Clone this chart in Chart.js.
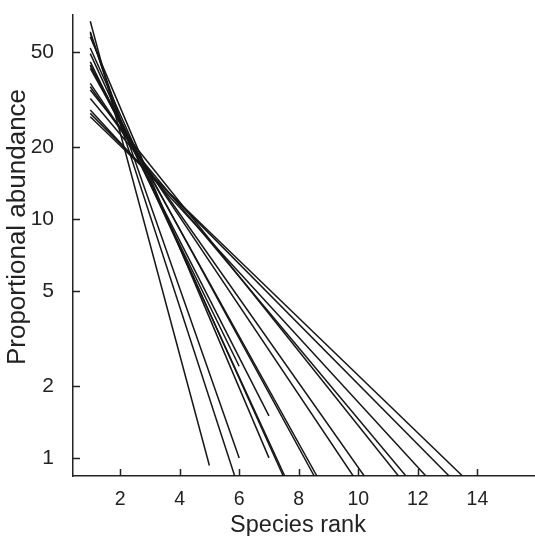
<!DOCTYPE html>
<html>
<head>
<meta charset="utf-8">
<script src="https://cdn.jsdelivr.net/npm/chart.js@4"></script>
<style>
  html, body { margin: 0; padding: 0; background: #fff; }
  #wrap { width: 535px; height: 536px; }
</style>
</head>
<body>
<div id="wrap"><canvas id="grafico"></canvas></div>
<script>
// Rank-abundance lines: each one runs from rank 1 to its last rank
const startRank = 1;
const startAbundance = [67.3, 60.8, 59.9, 57.9, 52.0, 49.3, 45.5, 44.1, 44.0, 42.7, 37.0, 35.8, 34.7, 32.0, 28.6, 27.7, 26.8];
const endRank      = [5.0, 5.85, 6.0, 7.0, 7.48, 7.53, 6.0, 7.0, 8.52, 8.61, 9.83, 10.2, 11.35, 11.6, 12.27, 13.05, 13.5];
const endAbundance = [0.93, 0.84, 1.0, 1.0, 0.84, 0.84, 2.42, 1.5, 0.84, 0.84, 0.84, 0.84, 0.84, 0.84, 0.84, 0.84, 0.84];

const yTicks = [1, 2, 5, 10, 20, 50];
const xTicks = [2, 4, 6, 8, 10, 12, 14];

const corTexto = '#222';
const fonte = '"Liberation Sans", Arial, sans-serif';

const datasets = startAbundance.map((s, i) => ({
    data: [{ x: startRank, y: s }, { x: endRank[i], y: endAbundance[i] }],
    borderColor: '#161616',
    borderWidth: 1.5,
    pointRadius: 0,
    fill: false,
    tension: 0
}));

// marcas dos ticks para dentro, e os titulos dos eixos
const ticksParaDentro = {
    id: 'ticksParaDentro',
    afterDraw(chart) {
        const ctx = chart.ctx;
        const { x, y } = chart.scales;
        ctx.save();
        ctx.strokeStyle = corTexto;
        ctx.lineWidth = 1.5;
        ctx.beginPath();
        xTicks.forEach(v => {
            const px = Math.round(x.getPixelForValue(v)) + 0.5;
            ctx.moveTo(px, y.bottom);
            ctx.lineTo(px, y.bottom - 7);
        });
        yTicks.forEach(v => {
            const py = Math.round(y.getPixelForValue(v)) + 0.5;
            ctx.moveTo(x.left, py);
            ctx.lineTo(x.left + 7, py);
        });
        ctx.stroke();

        ctx.fillStyle = corTexto;
        ctx.textAlign = 'center';
        ctx.textBaseline = 'middle';
        ctx.font = '23.5px ' + fonte;
        ctx.fillText('Species rank', 298, 526);
        ctx.translate(18, 227);
        ctx.rotate(-Math.PI / 2);
        ctx.font = '26px ' + fonte;
        ctx.fillText('Proportional abundance', 0, 0);
        ctx.restore();
    }
};

new Chart(document.getElementById('grafico').getContext('2d'), {
    type: 'line',
    data: { datasets: datasets },
    options: {
        responsive: true,
        maintainAspectRatio: false,
        animation: false,
        layout: { padding: { top: 15, right: 1, left: 0, bottom: 0 } },
        plugins: { legend: { display: false }, tooltip: { enabled: false } },
        scales: {
            x: {
                type: 'linear',
                min: 0.42,
                max: 15.9,
                afterBuildTicks: s => { s.ticks = xTicks.map(v => ({ value: v })); },
                afterFit: s => { s.height = 60; s.paddingLeft = 0; s.paddingRight = 0; },
                grid: { display: true, drawOnChartArea: false, drawTicks: false },
                border: { display: true, color: corTexto, width: 1.5 },
                ticks: { color: corTexto, font: { family: fonte, size: 19.5 }, padding: 12, maxRotation: 0 }
            },
            y: {
                type: 'logarithmic',
                min: 0.84,
                max: 71.5,
                afterBuildTicks: s => { s.ticks = yTicks.map(v => ({ value: v })); },
                afterFit: s => { s.width = 73; s.paddingTop = 0; s.paddingBottom = 0; },
                grid: { display: true, drawOnChartArea: false, drawTicks: false },
                border: { display: true, color: corTexto, width: 1.5 },
                ticks: { color: corTexto, font: { family: fonte, size: 21 }, padding: 19, callback: v => String(v) }
            }
        }
    },
    plugins: [ticksParaDentro]
});
</script>
</body>
</html>
